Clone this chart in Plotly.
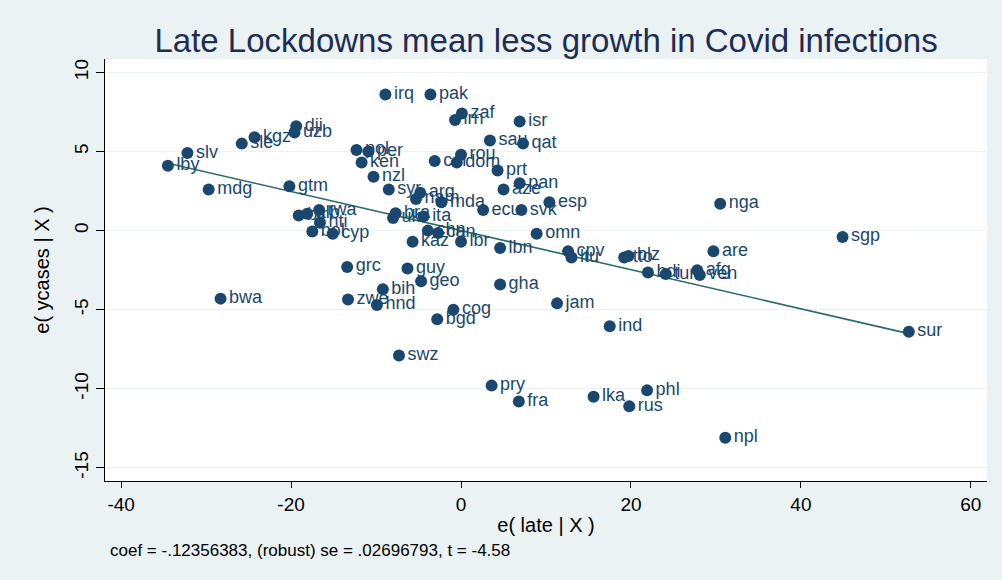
import plotly.graph_objects as go
import numpy as np

countries = ["lby","slv","sle","kgz","dji","uzb","irq","pak","zaf","irn","isr","sau","qat",
             "pol","per","ken","nzl","rou","col","dom","prt","pan","aze","syr","arg","nam","mda",
             "esp","nga","ecu","svk","gtm","mdg","blr","alb","rwa","hti","bol","cyp",
             "bra","ukr","ita","chn","can","kaz","lbr","lbn","omn","cpv","ltu","tto","blz",
             "are","sgp","sur","afg","ven","bdi","tun","grc","guy","geo","gha","bih","bwa",
             "zwe","hnd","cog","bgd","jam","ind","swz","pry","fra","lka","phl","rus","npl"]
e_late = [-34.5,-32.2,-25.8,-24.3,-19.4,-19.6,-8.9,-3.6,0.1,-0.7,6.9,3.4,7.3,
          -12.3,-10.9,-11.7,-10.3,0.0,-3.1,-0.5,4.3,6.9,5.0,-8.5,-4.8,-5.3,-2.3,
          10.4,30.5,2.6,7.1,-20.2,-29.7,-19.1,-18.1,-16.7,-16.6,-17.5,-15.1,
          -7.7,-8.0,-4.4,-3.9,-2.7,-5.7,0.0,4.6,8.9,12.6,13.0,19.2,19.7,
          29.7,44.9,52.7,27.8,28.1,22.0,24.1,-13.4,-6.3,-4.7,4.6,-9.2,-28.3,
          -13.3,-9.9,-0.9,-2.8,11.3,17.5,-7.3,3.6,6.8,15.6,21.9,19.8,31.1]
e_ycases = [4.1,4.9,5.5,5.9,6.6,6.2,8.6,8.6,7.4,7.0,6.9,5.7,5.5,
            5.1,5.0,4.3,3.4,4.8,4.4,4.3,3.8,3.0,2.6,2.6,2.4,2.0,1.8,
            1.8,1.7,1.3,1.3,2.8,2.6,0.95,1.07,1.3,0.5,-0.06,-0.2,
            1.1,0.8,0.9,0.0,-0.15,-0.7,-0.7,-1.1,-0.2,-1.3,-1.7,-1.7,-1.6,
            -1.3,-0.4,-6.4,-2.5,-2.8,-2.65,-2.75,-2.3,-2.4,-3.2,-3.4,-3.7,-4.3,
            -4.35,-4.7,-5.0,-5.6,-4.6,-6.05,-7.9,-9.8,-10.8,-10.5,-10.1,-11.1,-13.1]

coef = -0.12356383
x_ticks = [-40, -20, 0, 20, 40, 60]
x_ticktext = ["-40", "-20", "0", "20", "40", "60"]
y_ticks = [-15, -10, -5, 0, 5, 10]
y_ticktext = ["-15", "-10", "-5", "0", "5", "10"]

navy = "#1a476f"
fitc = "#2d6d66"
bg = "#eaf2f3"

fig = go.Figure()
xs = np.array([min(e_late), max(e_late)])
fig.add_trace(go.Scatter(x=xs, y=coef * xs, mode="lines",
                         line=dict(color=fitc, width=1.6), hoverinfo="skip", showlegend=False))
fig.add_trace(go.Scatter(x=e_late, y=e_ycases, mode="markers+text", text=countries,
                         textposition="middle right",
                         textfont=dict(family="Liberation Sans, Arial", size=18, color=navy),
                         marker=dict(color=navy, size=12, line=dict(width=0)),
                         showlegend=False))

fig.update_layout(
    width=1002, height=580,
    paper_bgcolor=bg, plot_bgcolor="white",
    margin=dict(l=105, r=15, t=59, b=99),
    font=dict(family="Liberation Sans, Arial", color="black"),
    title=dict(text="Late Lockdowns mean less growth in Covid infections",
               x=0.545, xanchor="center", y=0.93, yanchor="middle",
               font=dict(size=33, color="#1e2d53")),
    xaxis=dict(range=[-41.9, 61.9], tickvals=x_ticks, ticktext=x_ticktext,
               showgrid=False, zeroline=False,
               showline=True, linecolor="black", linewidth=1.2, ticks="outside",
               ticklen=6, tickcolor="black", tickfont=dict(size=19),
               title=dict(text="e( late | X )", font=dict(size=20), standoff=4)),
    yaxis=dict(range=[-15.83, 10.85], tickvals=y_ticks, ticktext=y_ticktext,
               showgrid=True, gridcolor=bg,
               gridwidth=1, zeroline=False, showline=True, linecolor="black", linewidth=1.2,
               ticks="outside", ticklen=8, tickcolor="black", tickangle=-90,
               tickfont=dict(size=19),
               title=dict(text="e( ycases | X )", font=dict(size=20), standoff=16)),
    annotations=[dict(text="coef = -.12356383, (robust) se = .02696793, t = -4.58",
                      xref="paper", yref="paper", x=0.003, y=-0.165, xanchor="left",
                      yanchor="middle", showarrow=False,
                      font=dict(size=17, color="black"))],
)

fig.write_html("out.html")
